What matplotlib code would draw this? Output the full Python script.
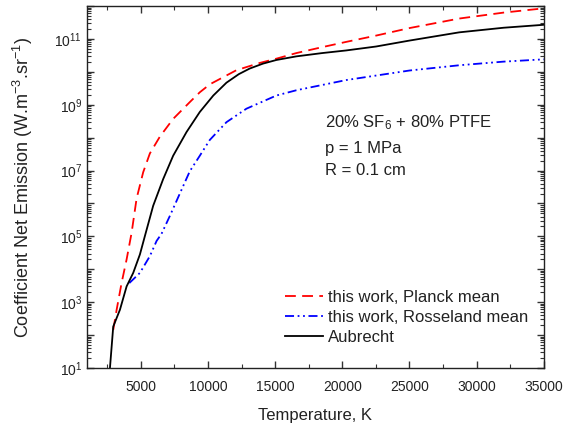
import matplotlib
matplotlib.use("Agg")
import matplotlib.pyplot as plt
import numpy as np
from matplotlib.ticker import LogLocator, FuncFormatter, MultipleLocator, NullFormatter

plt.rcParams['font.family'] = ['Liberation Sans', 'DejaVu Sans']
plt.rcParams['mathtext.fontset'] = 'custom'
plt.rcParams['mathtext.rm'] = 'Liberation Sans'
plt.rcParams['mathtext.it'] = 'Liberation Sans'

# Aubrecht (black solid)  -- temperature (K), log10 of emission
T_aub = [2709, 2954, 3452, 3949, 4440, 4938, 5309, 5926, 6669, 7412, 8407, 9395, 10400,
         11379, 12300, 13110, 14100, 15094, 16580, 18500, 20290, 22520, 25000, 28700, 32000, 35000]
logE_aub = [1.0, 2.26, 2.77, 3.48, 3.89, 4.45, 5.01, 5.93, 6.74, 7.45, 8.17, 8.78, 9.28,
            9.67, 9.93, 10.10, 10.25, 10.36, 10.47, 10.57, 10.65, 10.77, 10.95, 11.20, 11.34, 11.43]

# this work, Planck mean (red dashed)
T_pl = [2954, 3207, 3578, 3949, 4321, 4692, 5183, 5680, 6423, 7412, 8700, 9400, 10138, 12122,
        13853, 15094, 16580, 18500, 20290, 22500, 25000, 28711, 32000, 35000]
logE_pl = [2.16, 2.77, 3.59, 4.30, 5.11, 6.15, 6.95, 7.52, 8.03, 8.57, 9.10, 9.38, 9.62, 10.05,
           10.27, 10.40, 10.57, 10.75, 10.91, 11.10, 11.33, 11.62, 11.80, 11.93]

# this work, Rosseland mean (blue dash-dot-dot)
T_ro = [4150, 4938, 5680, 6178, 6550, 7166, 7909, 8652, 9395, 10138, 11379, 12865,
        15094, 16580, 20290, 25000, 28710, 32000, 35000]
logE_ro = [3.58, 3.89, 4.40, 4.86, 5.08, 5.62, 6.30, 6.98, 7.45, 7.93, 8.47, 8.88,
           9.28, 9.44, 9.75, 10.04, 10.20, 10.31, 10.38]

fig = plt.figure(figsize=(5.63, 4.30), dpi=100)
ax = fig.add_axes([0.1545, 0.1442, 0.8115, 0.8418])

ax.plot(T_pl, 10**np.array(logE_pl), color='#ff0000', lw=1.3, dashes=(6, 3.5),
        label='this work, Planck mean')
ax.plot(T_ro, 10**np.array(logE_ro), color='#0000ff', lw=1.3, dashes=(5, 2, 1, 2, 1, 2),
        label='this work, Rosseland mean')
ax.plot(T_aub, 10**np.array(logE_aub), color='black', lw=1.3, label='Aubrecht')

ax.set_yscale('log')
ax.set_xlim(1000, 35000)
ax.set_ylim(1e1, 1e12)

ax.set_xticks([5000, 10000, 15000, 20000, 25000, 30000, 35000])
ax.xaxis.set_minor_locator(MultipleLocator(2500))

ax.yaxis.set_major_locator(LogLocator(base=10, numticks=20))
ax.yaxis.set_minor_locator(LogLocator(base=10, subs=np.arange(2, 10), numticks=20))
ax.yaxis.set_minor_formatter(NullFormatter())

def yfmt(v, pos):
    e = int(round(np.log10(v)))
    if e % 2 == 1:
        return r'$10^{%d}$' % e
    return ''
ax.yaxis.set_major_formatter(FuncFormatter(yfmt))

ax.tick_params(which='both', direction='in', top=True, right=True, labelsize=10,
               colors='#333333', labelcolor='#222222')
ax.tick_params(which='major', length=5, width=1)
ax.tick_params(which='minor', length=3, width=0.8)
ax.tick_params(axis='x', pad=9)
for s in ax.spines.values():
    s.set_linewidth(1.0)
    s.set_color('#222222')

ax.set_xlabel('Temperature, K', fontsize=12, color='#222222', labelpad=10)
ax.set_ylabel(r'Coefficient Net Emission (W.m$^{-3}$.sr$^{-1}$)', fontsize=13,
              color='#222222', labelpad=14)

ax.text(0.521, 0.664, r'20% SF$_6$ + 80% PTFE', transform=ax.transAxes, fontsize=12,
        color='#222222', va='baseline')
ax.text(0.521, 0.593, 'p = 1 MPa', transform=ax.transAxes, fontsize=12,
        color='#222222', va='baseline')
ax.text(0.521, 0.533, 'R = 0.1 cm', transform=ax.transAxes, fontsize=12,
        color='#222222', va='baseline')

leg = ax.legend(loc='upper left', bbox_to_anchor=(0.433, 0.215), frameon=False, fontsize=12,
                handlelength=2.3, handletextpad=0.3, labelspacing=0.3, borderpad=0,
                borderaxespad=0)
for t in leg.get_texts():
    t.set_color('#222222')

fig.savefig('out.png', dpi=100)
